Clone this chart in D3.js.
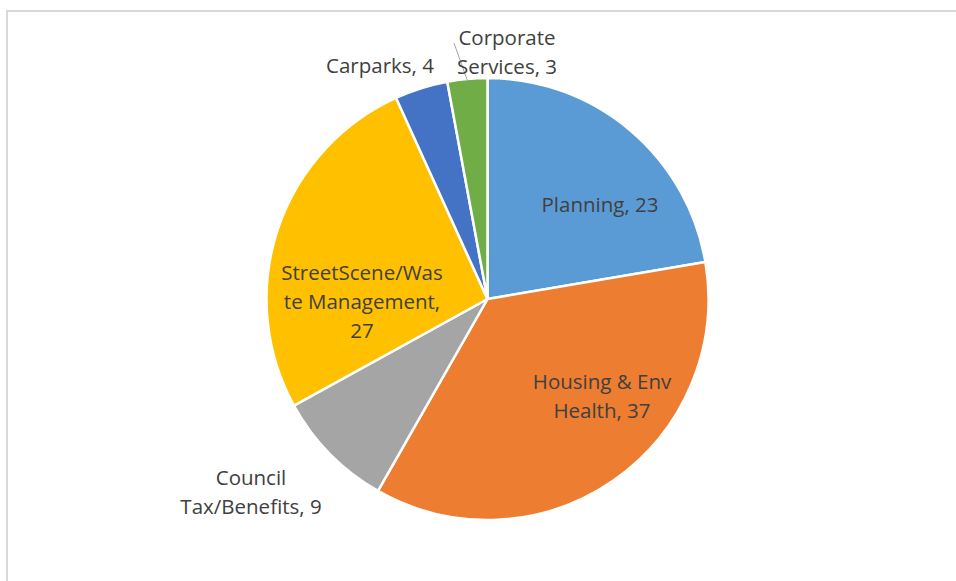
<!DOCTYPE html>
<html>
<head>
<meta charset="utf-8">
<script src="https://cdn.jsdelivr.net/npm/d3@7"></script>
<style>
  html, body { margin: 0; padding: 0; background: #fff; }
  svg { display: block; }
</style>
</head>
<body>
<svg id="chart" width="956" height="581"></svg>
<script>
// Complaints by service area
const categories = ["Planning", "Housing & Env Health", "Council Tax/Benefits", "StreetScene/Waste Management", "Carparks", "Corporate Services"];
const values = [23, 37, 9, 27, 4, 3];
const colors = ["#5B9BD5", "#ED7D31", "#A5A5A5", "#FFC000", "#4472C4", "#70AD47"];

// Wrapped label lines (value appended from the data) and their anchor points
const labelLines = [
  ["Planning, "],
  ["Housing & Env", "Health, "],
  ["Council", "Tax/Benefits, "],
  ["StreetScene/Was", "te Management,", ""],
  ["Carparks, "],
  ["Corporate", "Services, "]
];
const labelAnchors = [[600, 212], [602, 389], [251, 485], [362, 280], [380, 73], [507, 45]];

const width = 956, height = 581;
const cx = 487.5, cy = 299, radius = 221;
const lineGap = 29;

const svg = d3.select("#chart");

// chart area frame
svg.append("rect")
  .attr("x", 7).attr("y", 11)
  .attr("width", 1000).attr("height", 1000)
  .attr("fill", "#fff")
  .attr("stroke", "#d9d9d9")
  .attr("stroke-width", 2);

const data = categories.map((c, i) => ({ name: c, value: values[i], color: colors[i], lines: labelLines[i], anchor: labelAnchors[i] }));

const pie = d3.pie().value(d => d.value).sort(null);
const arc = d3.arc().innerRadius(0).outerRadius(radius);
const arcs = pie(data);

const g = svg.append("g").attr("transform", `translate(${cx},${cy})`);

g.selectAll("path.slice")
  .data(arcs)
  .join("path")
  .attr("class", "slice")
  .attr("d", arc)
  .attr("fill", d => d.data.color)
  .attr("stroke", "#fff")
  .attr("stroke-width", 2.5)
  .attr("stroke-linejoin", "round");

// leader line for the small slice whose label sits outside
const corp = arcs[5];
const mid = (corp.startAngle + corp.endAngle) / 2;
const edge = [Math.sin(mid) * (radius - 2), -Math.cos(mid) * (radius - 2)];
svg.append("line")
  .attr("x1", cx + edge[0]).attr("y1", cy + edge[1])
  .attr("x2", 454).attr("y2", 43)
  .attr("stroke", "#a6a6a6")
  .attr("stroke-width", 1);

// data labels
const labels = svg.append("g")
  .attr("font-family", "'Open Sans', 'Segoe UI', sans-serif")
  .attr("font-size", 20.5)
  .attr("fill", "#404040")
  .attr("text-anchor", "middle");

data.forEach(d => {
  const n = d.lines.length;
  d.lines.forEach((t, j) => {
    const txt = j === n - 1 ? t + d.value : t;
    labels.append("text")
      .attr("x", d.anchor[0])
      .attr("y", d.anchor[1] + j * lineGap)
      .text(txt);
  });
});
</script>
</body>
</html>
